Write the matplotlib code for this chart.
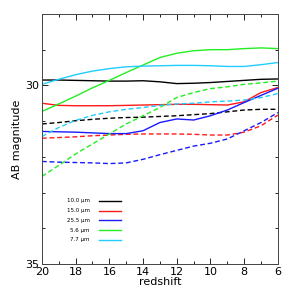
import matplotlib
matplotlib.use("Agg")
import matplotlib.pyplot as plt
from matplotlib.ticker import MultipleLocator, FixedLocator

redshift = [20, 19, 18, 17, 16, 15, 14, 13, 12, 11, 10, 9, 8, 7, 6]

# solid curves
mag_10_0 = [29.85, 29.85, 29.86, 29.87, 29.88, 29.88, 29.87, 29.90, 29.95, 29.94, 29.92, 29.89, 29.86, 29.83, 29.82]
mag_15_0 = [30.50, 30.56, 30.57, 30.57, 30.57, 30.56, 30.55, 30.54, 30.53, 30.53, 30.54, 30.55, 30.46, 30.20, 30.06]
mag_25_5 = [31.29, 31.30, 31.31, 31.33, 31.35, 31.35, 31.27, 31.04, 30.94, 30.97, 30.85, 30.69, 30.48, 30.28, 30.08]
mag_5_6 = [30.73, 30.52, 30.30, 30.07, 29.86, 29.64, 29.43, 29.22, 29.10, 29.03, 29.00, 29.00, 28.97, 28.95, 28.97]
mag_7_7 = [29.97, 29.83, 29.70, 29.60, 29.53, 29.48, 29.46, 29.45, 29.44, 29.44, 29.45, 29.47, 29.47, 29.42, 29.36]

# dashed curves
dash_10_0 = [31.08, 31.04, 30.99, 30.95, 30.92, 30.90, 30.89, 30.87, 30.85, 30.82, 30.79, 30.74, 30.69, 30.67, 30.67]
dash_15_0 = [31.48, 31.46, 31.44, 31.41, 31.39, 31.37, 31.36, 31.36, 31.36, 31.37, 31.39, 31.39, 31.31, 31.13, 30.83]
dash_25_5 = [32.13, 32.15, 32.16, 32.17, 32.19, 32.17, 32.07, 31.94, 31.82, 31.70, 31.62, 31.50, 31.27, 31.04, 30.76]
dash_5_6 = [32.55, 32.24, 31.92, 31.64, 31.36, 31.08, 30.85, 30.62, 30.34, 30.20, 30.09, 30.04, 29.97, 29.93, 29.88]
dash_7_7 = [31.43, 31.18, 30.98, 30.84, 30.74, 30.67, 30.62, 30.56, 30.52, 30.50, 30.46, 30.44, 30.41, 30.34, 30.23]

labels = ["10.0 \u03bcm", "15.0 \u03bcm", "25.5 \u03bcm", "5.6 \u03bcm", "7.7 \u03bcm"]
colors = ["black", "#ff1a1a", "#1a1aff", "#22ee22", "#22ccff"]

fig = plt.figure(figsize=(2.91, 2.91), dpi=100)
ax = fig.add_axes([0.144, 0.093, 0.811, 0.859])

solid = [mag_10_0, mag_15_0, mag_25_5, mag_5_6, mag_7_7]
dashed = [dash_10_0, dash_15_0, dash_25_5, dash_5_6, dash_7_7]

for s, d, c in zip(solid, dashed, colors):
    ax.plot(redshift, s, color=c, lw=1.0)
    ax.plot(redshift, d, color=c, lw=1.0, ls=(0, (3.5, 2)))

# legend: right-aligned labels, sample line to the right
for i, (lab, c) in enumerate(zip(labels, colors)):
    yy = 0.252 - i * 0.039
    ax.text(0.203, yy, lab, transform=ax.transAxes, ha="right", va="center", fontsize=4)
    ax.plot([0.242, 0.335], [yy, yy], transform=ax.transAxes, color=c, lw=1.0)

ax.set_xlim(20, 6)
ax.set_ylim(35, 28)
ax.xaxis.set_major_locator(MultipleLocator(2))
ax.xaxis.set_minor_locator(MultipleLocator(1))
ax.yaxis.set_major_locator(FixedLocator([30, 35]))
ax.yaxis.set_minor_locator(MultipleLocator(1))
ax.tick_params(which="both", direction="in", top=True, right=True, labelsize=8, pad=2)
ax.tick_params(which="major", length=4, width=0.6)
ax.tick_params(which="minor", length=2.5, width=0.6)
for sp in ax.spines.values():
    sp.set_linewidth(0.7)
    sp.set_color("#444444")

ax.set_xlabel("redshift", fontsize=8, labelpad=0)
ax.set_ylabel("AB magnitude", fontsize=8, labelpad=2)

fig.savefig("out.png", dpi=100)
